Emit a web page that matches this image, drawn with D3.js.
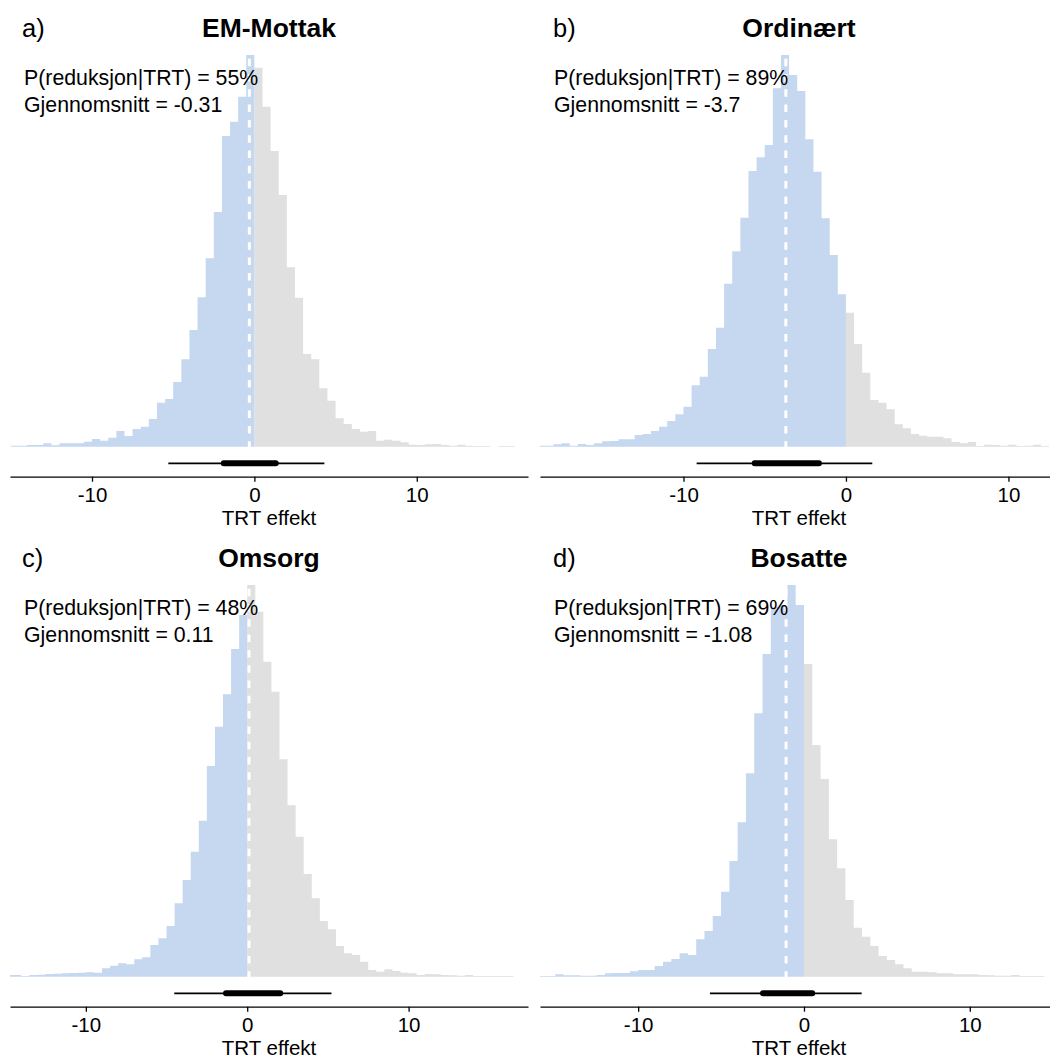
<!DOCTYPE html>
<html>
<head>
<meta charset="utf-8">
<script src="https://cdn.jsdelivr.net/npm/d3@7"></script>
<style>
  html, body { margin: 0; padding: 0; background: #fff; }
  svg { display: block; }
  text { font-family: "Liberation Sans", Arial, Helvetica, sans-serif; }
</style>
</head>
<body>
<div id="chart"></div>
<script>
// ---------------- data ----------------
const panelTitles = ["EM-Mottak", "Ordinært", "Omsorg", "Bosatte"];
const panelTags = ["a)", "b)", "c)", "d)"];
const probReduction = [55, 89, 48, 69];
const meanLabels = ["-0.31", "-3.7", "0.11", "-1.08"];
const meanValues = [-0.31, -3.7, 0.11, -1.08];
const xLimits = [[-15.05, 16.85], [-18.83, 13.05], [-14.7, 17.4], [-15.92, 15.32]];
const tickValues = [-10, 0, 10];
const binWidth = 0.5;
const binStarts = [-15, -19, -15, -16];
const countsA = [3,3,5,5,10,4,10,10,10,15,23,18,27,47,32,53,60,83,132,143,194,262,350,448,565,704,932,975,1050,1175,
                 1137,1020,887,755,538,447,278,262,175,138,85,68,53,45,47,18,21,18,13,6,5,7,8,5,3,6,3,2,2,0,2,2];
const countsB = [3,3,7,10,3,8,5,10,16,17,22,22,35,38,47,60,77,97,120,184,210,293,357,489,586,687,827,868,905,1075,1175,1115,1067,922,825,685,575,457,
                 402,308,222,140,132,112,67,55,38,33,30,30,25,14,10,14,2,6,5,3,6,2,3,6,2];
const countsC = [5,5,2,5,6,8,9,10,11,12,13,12,25,33,40,37,52,58,95,115,152,220,290,375,468,632,750,847,983,1085,
                 1175,1095,945,855,652,514,420,308,235,167,142,92,70,65,45,20,15,22,17,12,10,5,8,7,5,4,3,5,2,2,2,2,2];
const countsD = [2,2,7,4,4,3,3,5,10,11,11,16,20,20,32,45,53,70,65,112,137,182,255,347,463,610,790,968,1110,1115,1175,1115,
                 938,695,593,412,325,230,147,120,92,62,50,37,25,15,15,13,10,10,7,7,7,5,4,3,3,5,2,2,2];
const allCounts = [countsA, countsB, countsC, countsD];
const interval66 = [[-2.01, 1.44], [-5.74, -1.54], [-1.44, 2.17], [-2.59, 0.62]];
const interval95 = [[-5.30, 4.31], [-9.19, 1.62], [-4.52, 5.22], [-5.67, 3.48]];
const axisTitle = "TRT effekt";

// ---------------- layout ----------------
const W = 1050, H = 1057;
const cols = [{x0: 10, x1: 528, textX: 24, tagX: 22}, {x0: 540, x1: 1058, textX: 554, tagX: 553}];
const rows = [
  {top: 55, base: 446.7, intY: 463.3, axisY: 476.7, titleY: 37, line1: 85, line2: 111.5, tickY: 502, labY: 524.5},
  {top: 585, base: 976.7, intY: 993.3, axisY: 1006.7, titleY: 567, line1: 615, line2: 641.5, tickY: 1032, labY: 1054.5}
];
const BLUE = "#c6d8f0", GREY = "#e0e0e0";
const FS = 21.3, TICK_FS = 20.5, TITLE_FS = 26.5, TAG_FS = 25.5;

const svg = d3.select("#chart").append("svg").attr("width", W).attr("height", H);

panelTitles.forEach((title, i) => {
  const c = cols[i % 2], r = rows[Math.floor(i / 2)];
  const g = svg.append("g");
  const x = d3.scaleLinear().domain(xLimits[i]).range([c.x0, c.x1]);
  const counts = allCounts[i];
  const y = d3.scaleLinear().domain([0, d3.max(counts)]).range([r.base, r.top]);

  const clipId = "clip" + i;
  svg.append("clipPath").attr("id", clipId)
    .append("rect").attr("x", c.x0).attr("y", 0).attr("width", c.x1 - c.x0).attr("height", H);

  const bins = counts.map((v, k) => ({start: binStarts[i] + k * binWidth, v}));
  const area = d3.area().curve(d3.curveStepAfter)
    .x(d => x(d[0])).y0(r.base).y1(d => y(d[1]));
  const neg = bins.filter(b => b.start < 0).map(b => [b.start, b.v]);
  neg.push([0, neg[neg.length - 1][1]]);
  const pos = bins.filter(b => b.start >= 0).map(b => [b.start, b.v]);
  const lastPos = bins[bins.length - 1];
  pos.push([lastPos.start + binWidth, lastPos.v]);

  const slab = g.append("g").attr("clip-path", `url(#${clipId})`);
  slab.append("path").attr("d", area(pos)).attr("fill", GREY);
  slab.append("path").attr("d", area(neg)).attr("fill", BLUE);

  // mean dashed line
  slab.append("line")
    .attr("x1", x(meanValues[i])).attr("x2", x(meanValues[i]))
    .attr("y1", r.base + 2).attr("y2", r.top)
    .attr("stroke", "#fff").attr("stroke-width", 3)
    .attr("stroke-dasharray", "7.5,7.8");

  // interval
  g.append("line").attr("x1", x(interval95[i][0])).attr("x2", x(interval95[i][1]))
    .attr("y1", r.intY).attr("y2", r.intY).attr("stroke", "#000").attr("stroke-width", 1.7);
  g.append("line").attr("x1", x(interval66[i][0]) + 2).attr("x2", x(interval66[i][1]) - 2)
    .attr("y1", r.intY).attr("y2", r.intY).attr("stroke", "#000").attr("stroke-width", 6)
    .attr("stroke-linecap", "round");

  // axis
  const axis = d3.axisBottom(x).tickValues(tickValues).tickSize(5).tickSizeOuter(0)
    .tickFormat(d => d === 0 ? "0" : String(d).replace("\u2212", "-"));
  const ag = g.append("g").attr("transform", `translate(0,${r.axisY})`).call(axis);
  ag.select(".domain").attr("stroke", "#000").attr("stroke-width", 1.3);
  ag.selectAll(".tick line").attr("stroke", "#000").attr("stroke-width", 1.3);
  ag.selectAll(".tick text")
    .attr("y", r.tickY - r.axisY).attr("dy", null)
    .attr("fill", "#000").style("font-size", TICK_FS + "px")
    .style("font-family", '"Liberation Sans", Arial, sans-serif');

  g.append("text").attr("x", (c.x0 + c.x1) / 2).attr("y", r.labY)
    .attr("text-anchor", "middle").style("font-size", TICK_FS + "px").text(axisTitle);

  // titles
  g.append("text").attr("x", (c.x0 + c.x1) / 2).attr("y", r.titleY)
    .attr("text-anchor", "middle").style("font-size", TITLE_FS + "px").style("font-weight", "bold").text(title);
  g.append("text").attr("x", c.tagX).attr("y", r.titleY)
    .style("font-size", TAG_FS + "px").text(panelTags[i]);

  // annotations
  g.append("text").attr("x", c.textX).attr("y", r.line1).style("font-size", FS + "px")
    .text(`P(reduksjon|TRT) = ${probReduction[i]}%`);
  g.append("text").attr("x", c.textX).attr("y", r.line2).style("font-size", FS + "px")
    .text(`Gjennomsnitt = ${meanLabels[i]}`);
});
</script>
</body>
</html>
